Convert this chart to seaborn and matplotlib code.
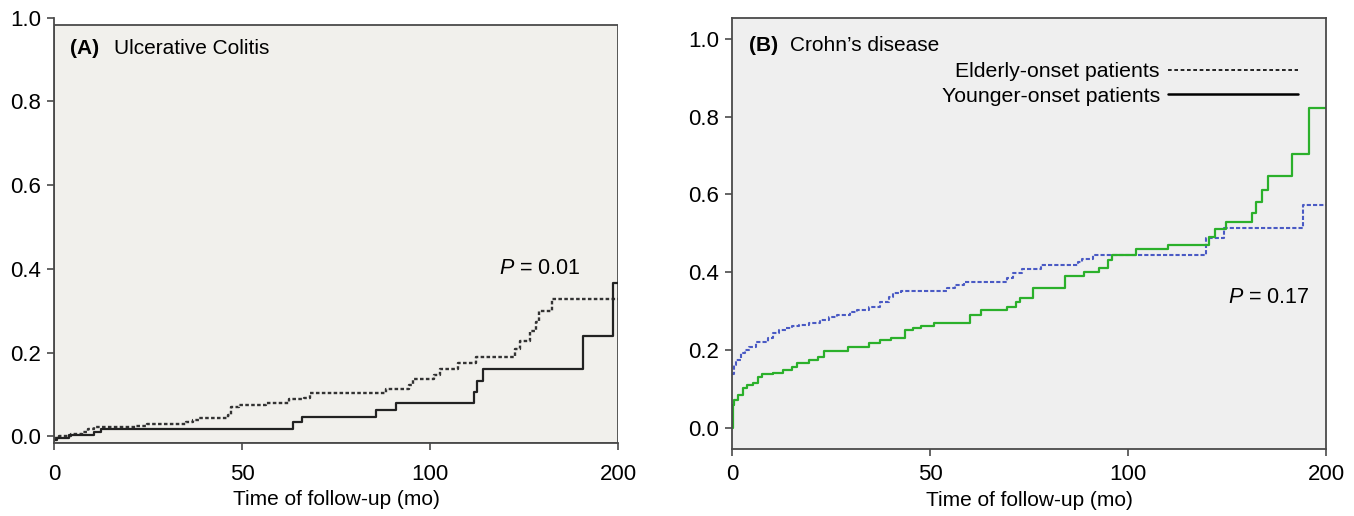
import numpy as np
import pandas as pd
import seaborn as sns
import matplotlib.pyplot as plt
from matplotlib.lines import Line2D

# (A) Ulcerative colitis - cumulative probability (months, proportion)
uc_elderly_t = [0, 1.4, 4.5, 7.5, 9.1, 10.6, 21.8, 24.8, 35.0, 37.0, 38.6, 46.2, 47.2, 49.3,
                56.4, 62.5, 66.6, 68.1, 88.4, 94.5, 95.6, 101.1, 102.7, 107.5, 112.3,
                122.5, 124.0, 126.6, 128.1, 128.9, 132.5, 150]
uc_elderly_p = [-0.004, 0.002, 0.006, 0.011, 0.018, 0.022, 0.025, 0.030, 0.035, 0.039, 0.045,
                0.051, 0.071, 0.075, 0.081, 0.089, 0.093, 0.103, 0.113, 0.123, 0.137, 0.147,
                0.160, 0.176, 0.189, 0.209, 0.229, 0.252, 0.274, 0.300, 0.328, 0.328]
uc_younger_t = [0, 0.9, 4.0, 10.6, 12.6, 63.5, 66.0, 85.7, 91.0, 111.6, 112.6, 114.2,
                140.6, 148.8, 150]
uc_younger_p = [-0.008, -0.003, 0.004, 0.010, 0.019, 0.034, 0.046, 0.063, 0.079, 0.107,
                0.133, 0.160, 0.241, 0.366, 0.366]

# (B) Crohn's disease
cd_elderly_t = [0, 0.5, 1.1, 2.2, 3.3, 4.3, 6.0, 9.2, 10.3, 11.9, 13.6, 15.2, 16.8, 19.5,
                22.2, 24.4, 26.6, 29.8, 31.5, 34.7, 37.4, 39.6, 40.7, 42.8, 54.2, 56.4,
                58.6, 69.4, 71.0, 73.2, 78.1, 87.3, 88.4, 91.1, 119.8, 124.2, 144.3, 150]
cd_elderly_p = [0.139, 0.161, 0.174, 0.191, 0.200, 0.208, 0.221, 0.230, 0.242, 0.251, 0.255,
                0.260, 0.264, 0.268, 0.277, 0.285, 0.290, 0.298, 0.302, 0.311, 0.324, 0.337,
                0.345, 0.351, 0.358, 0.367, 0.375, 0.384, 0.397, 0.407, 0.418, 0.427, 0.433,
                0.443, 0.487, 0.513, 0.573, 0.573]
cd_younger_t = [0, 0.3, 0.5, 1.6, 2.7, 3.8, 5.4, 6.5, 7.6, 10.3, 13.0, 15.2, 16.3, 19.5, 21.7,
                23.3, 29.3, 34.7, 37.4, 40.1, 43.6, 45.6, 47.7, 51.0, 60.2, 62.9, 69.4,
                71.6, 72.7, 75.9, 84.1, 88.9, 92.7, 94.9, 96.0, 102.0, 110.1, 120.4, 122.0,
                124.7, 131.2, 132.3, 133.9, 135.4, 141.5, 145.6, 150]
cd_younger_p = [0.0, 0.058, 0.071, 0.084, 0.101, 0.109, 0.115, 0.131, 0.137, 0.141, 0.148,
                0.157, 0.165, 0.174, 0.181, 0.198, 0.206, 0.217, 0.224, 0.230, 0.251, 0.255,
                0.261, 0.270, 0.290, 0.302, 0.311, 0.324, 0.334, 0.358, 0.390, 0.401, 0.410,
                0.431, 0.444, 0.459, 0.470, 0.491, 0.510, 0.530, 0.551, 0.581, 0.611, 0.646,
                0.704, 0.821, 0.821]

x_ticks = [0, 50, 100, 150]
x_tick_labels = ['0', '50', '100', '200']
y_ticks = [0.0, 0.2, 0.4, 0.6, 0.8, 1.0]

sns.set_theme(style='ticks')
plt.rcParams['font.family'] = ['Liberation Sans', 'DejaVu Sans']
plt.rcParams['mathtext.fontset'] = 'custom'
plt.rcParams['mathtext.rm'] = 'Liberation Sans'
plt.rcParams['mathtext.it'] = 'Liberation Sans:italic'
plt.rcParams['text.color'] = 'black'
plt.rcParams['axes.labelcolor'] = 'black'

edge = '#4a4a4a'
fs = 15
fig = plt.figure(figsize=(13.54, 5.16), dpi=100)
axA = fig.add_axes([0.0399, 0.1415, 0.4165, 0.8245])
axB = fig.add_axes([0.5406, 0.1308, 0.4387, 0.8337])

# ---- panel A ----
axA.set_facecolor('white')
axA.axhspan(-0.0155, 0.983, facecolor='#f1f0ec', edgecolor=edge, lw=1.3, zorder=0)
sns.lineplot(x=uc_elderly_t, y=uc_elderly_p, ax=axA, color='#333333', estimator=None,
             drawstyle='steps-post', ls=(0, (1.5, 1.0)), lw=1.7)
sns.lineplot(x=uc_younger_t, y=uc_younger_p, ax=axA, color='#222222', estimator=None,
             drawstyle='steps-post', lw=1.6)
axA.set_xlim(0, 150)
axA.set_ylim(-0.0155, 1.0)
for s in ['top', 'right']:
    axA.spines[s].set_visible(False)
axA.text(0.028, 0.928, '(A)', transform=axA.transAxes, fontsize=fs, fontweight='bold', va='center')
axA.text(0.107, 0.928, 'Ulcerative Colitis', transform=axA.transAxes, fontsize=fs, va='center')
axA.text(0.933, 0.411, r'$P$ = 0.01', transform=axA.transAxes, fontsize=15.5, ha='right', va='center')

# ---- panel B ----
axB.set_facecolor('#efefef')
sns.lineplot(x=cd_elderly_t, y=cd_elderly_p, ax=axB, color='#4a5ac4', estimator=None,
             drawstyle='steps-post', ls=(0, (2.0, 1.0)), lw=1.5)
sns.lineplot(x=cd_younger_t, y=cd_younger_p, ax=axB, color='#2bb02b', estimator=None,
             drawstyle='steps-post', lw=1.6)
axB.set_xlim(0, 150)
axB.set_ylim(-0.054, 1.053)
axB.text(0.029, 0.936, '(B)', transform=axB.transAxes, fontsize=fs, fontweight='bold', va='center')
axB.text(0.098, 0.936, 'Crohn\u2019s disease', transform=axB.transAxes, fontsize=fs, va='center')
axB.text(0.973, 0.352, r'$P$ = 0.17', transform=axB.transAxes, fontsize=15.5, ha='right', va='center')
handles = [Line2D([], [], color='black', ls=(0, (2.2, 1.6)), lw=1.2),
           Line2D([], [], color='black', lw=1.8)]
axB.legend(handles, ['Elderly-onset patients', 'Younger-onset patients'], markerfirst=False,
           frameon=False, loc='upper right', bbox_to_anchor=(0.953, 0.898), borderpad=0,
           borderaxespad=0, handlelength=6.1, handletextpad=0.4, labelspacing=0.27,
           fontsize=15.3)

for ax, xpad in [(axA, 10), (axB, 6.5)]:
    ax.set_xticks(x_ticks)
    ax.set_xticklabels(x_tick_labels)
    ax.set_yticks(y_ticks)
    ax.set_yticklabels([f'{v:.1f}' for v in y_ticks])
    ax.tick_params(axis='both', direction='out', length=5, width=1.2, color=edge,
                   labelsize=16, labelcolor='black')
    ax.tick_params(axis='x', pad=xpad)
    ax.tick_params(axis='y', pad=4.5)
    for s in ax.spines.values():
        s.set_color(edge)
        s.set_linewidth(1.3)
    ax.set_xlabel('Time of follow-up (mo)', fontsize=fs, labelpad=4)
    ax.set_ylabel('')

fig.savefig('out.png', dpi=100)
